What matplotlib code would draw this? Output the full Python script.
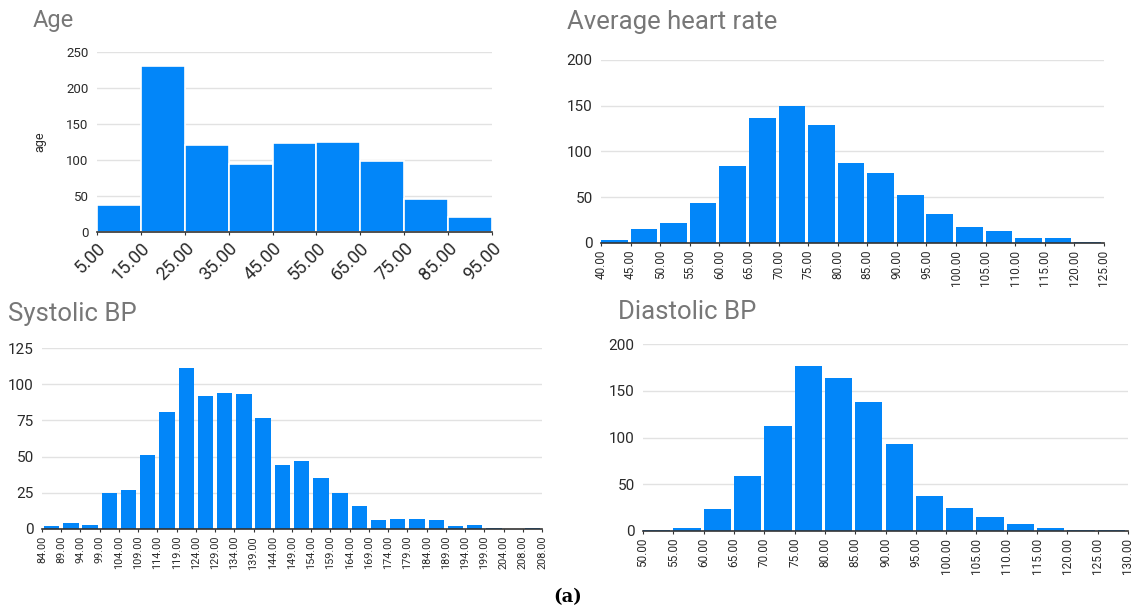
import numpy as np
import matplotlib
matplotlib.use("Agg")
import matplotlib.pyplot as plt

plt.rcParams['font.family'] = ['Roboto', 'DejaVu Sans']

# data
age_edges = [5, 15, 25, 35, 45, 55, 65, 75, 85, 95]
age_counts = [37, 230, 121, 94, 123, 125, 98, 46, 21]

hr_edges = [40, 45, 50, 55, 60, 65, 70, 75, 80, 85, 90, 95, 100, 105, 110, 115, 120, 125]
hr_counts = [3, 15, 22, 44, 84, 137, 150, 129, 87, 77, 53, 32, 18, 13, 6, 6, 1]

sys_labels = ['84.00', '89.00', '94.00', '99.00', '104.00', '109.00', '114.00', '119.00',
              '124.00', '129.00', '134.00', '139.00', '144.00', '149.00', '154.00', '159.00',
              '164.00', '169.00', '174.00', '179.00', '184.00', '189.00', '194.00', '199.00',
              '204.00', '208.00', '208.00']
sys_counts = [2, 4, 3, 25, 27, 51, 81, 111, 92, 94, 93, 77, 44, 47, 35, 25, 16, 6, 7, 7, 6,
              2, 3, 1, 0, 1]

dia_edges = [50, 55, 60, 65, 70, 75, 80, 85, 90, 95, 100, 105, 110, 115, 120, 125, 130]
dia_counts = [1, 3, 24, 59, 112, 177, 164, 138, 93, 37, 25, 15, 8, 3, 1, 1]

W, H = 1137, 612
BLUE = '#0286f9'
GRID = '#e2e2e2'
TXT = '#2a2a2a'
TITLE = '#777777'

fig = plt.figure(figsize=(W / 100, H / 100), dpi=100)


def box(l, r, t, b):
    return [l / W, 1 - b / H, (r - l) / W, (b - t) / H]


def style(ax, ymax, ystep, ysize=10):
    ax.set_ylim(0, ymax)
    ax.set_yticks(np.arange(0, ymax + 1, ystep))
    ax.grid(axis='y', color=GRID, linewidth=1)
    ax.set_axisbelow(True)
    for s in ['top', 'right', 'left']:
        ax.spines[s].set_visible(False)
    ax.spines['bottom'].set_color('#333333')
    ax.spines['bottom'].set_linewidth(1.2)
    ax.spines['bottom'].set_zorder(5)
    ax.tick_params(axis='y', length=0, labelsize=ysize, labelcolor=TXT, pad=6)
    ax.tick_params(axis='x', length=2, color='#333333', labelcolor=TXT, pad=3)


# Age
ax1 = fig.add_axes(box(97, 492, 52, 232))
ax1.bar(age_edges[:-1], age_counts, width=np.diff(age_edges), align='edge',
        color=BLUE, edgecolor='white', linewidth=1.2)
ax1.set_xlim(age_edges[0], age_edges[-1])
ax1.set_xticks(age_edges)
ax1.set_xticklabels(['%.2f' % v for v in age_edges], rotation=45, ha='right',
                    va='top', rotation_mode='anchor', fontsize=13)
style(ax1, 250, 50, 9.5)
ax1.set_ylabel('age', fontsize=9, color=TXT, labelpad=14)
fig.text(33 / W, 1 - 20 / H, 'Age', fontsize=17, color=TITLE, va='center')

# Average heart rate
ax2 = fig.add_axes(box(601, 1104, 60, 243))
ax2.bar(hr_edges[:-1], hr_counts, width=np.diff(hr_edges) * 0.9, align='edge',
        color=BLUE, edgecolor='none')
ax2.set_xlim(hr_edges[0], hr_edges[-1])
ax2.set_xticks(hr_edges)
ax2.set_xticklabels(['%.2f' % v for v in hr_edges], rotation=90, ha='center',
                    va='top', fontsize=8.5)
style(ax2, 200, 50, 11)
fig.text(567 / W, 1 - 22 / H, 'Average heart rate', fontsize=18.5, color=TITLE, va='center')

# Systolic BP
ax3 = fig.add_axes(box(42, 542, 348, 529))
pos = np.arange(len(sys_counts))
ax3.bar(pos + 0.1, sys_counts, width=0.8, align='edge', color=BLUE, edgecolor='none')
ax3.set_xlim(0, len(sys_counts))
ax3.set_xticks(np.arange(len(sys_labels)))
ax3.set_xticklabels(sys_labels, rotation=90, ha='center', va='top', fontsize=7.8)
style(ax3, 125, 25, 11)
fig.text(8 / W, 1 - 314 / H, 'Systolic BP', fontsize=18.5, color=TITLE, va='center')

# Diastolic BP
ax4 = fig.add_axes(box(643, 1128, 344, 531))
ax4.bar(dia_edges[:-1], dia_counts, width=np.diff(dia_edges) * 0.9, align='edge',
        color=BLUE, edgecolor='none')
ax4.set_xlim(dia_edges[0], dia_edges[-1])
ax4.set_xticks(dia_edges)
ax4.set_xticklabels(['%.2f' % v for v in dia_edges], rotation=90, ha='center',
                    va='top', fontsize=8.5)
style(ax4, 200, 50, 11)
fig.text(618 / W, 1 - 312 / H, 'Diastolic BP', fontsize=18.5, color=TITLE, va='center')

fig.text(568 / W, 1 - 597 / H, '(a)', fontsize=13, fontweight='bold',
         family=['DejaVu Serif'], ha='center', va='center')

fig.savefig('out.png', dpi=100)
